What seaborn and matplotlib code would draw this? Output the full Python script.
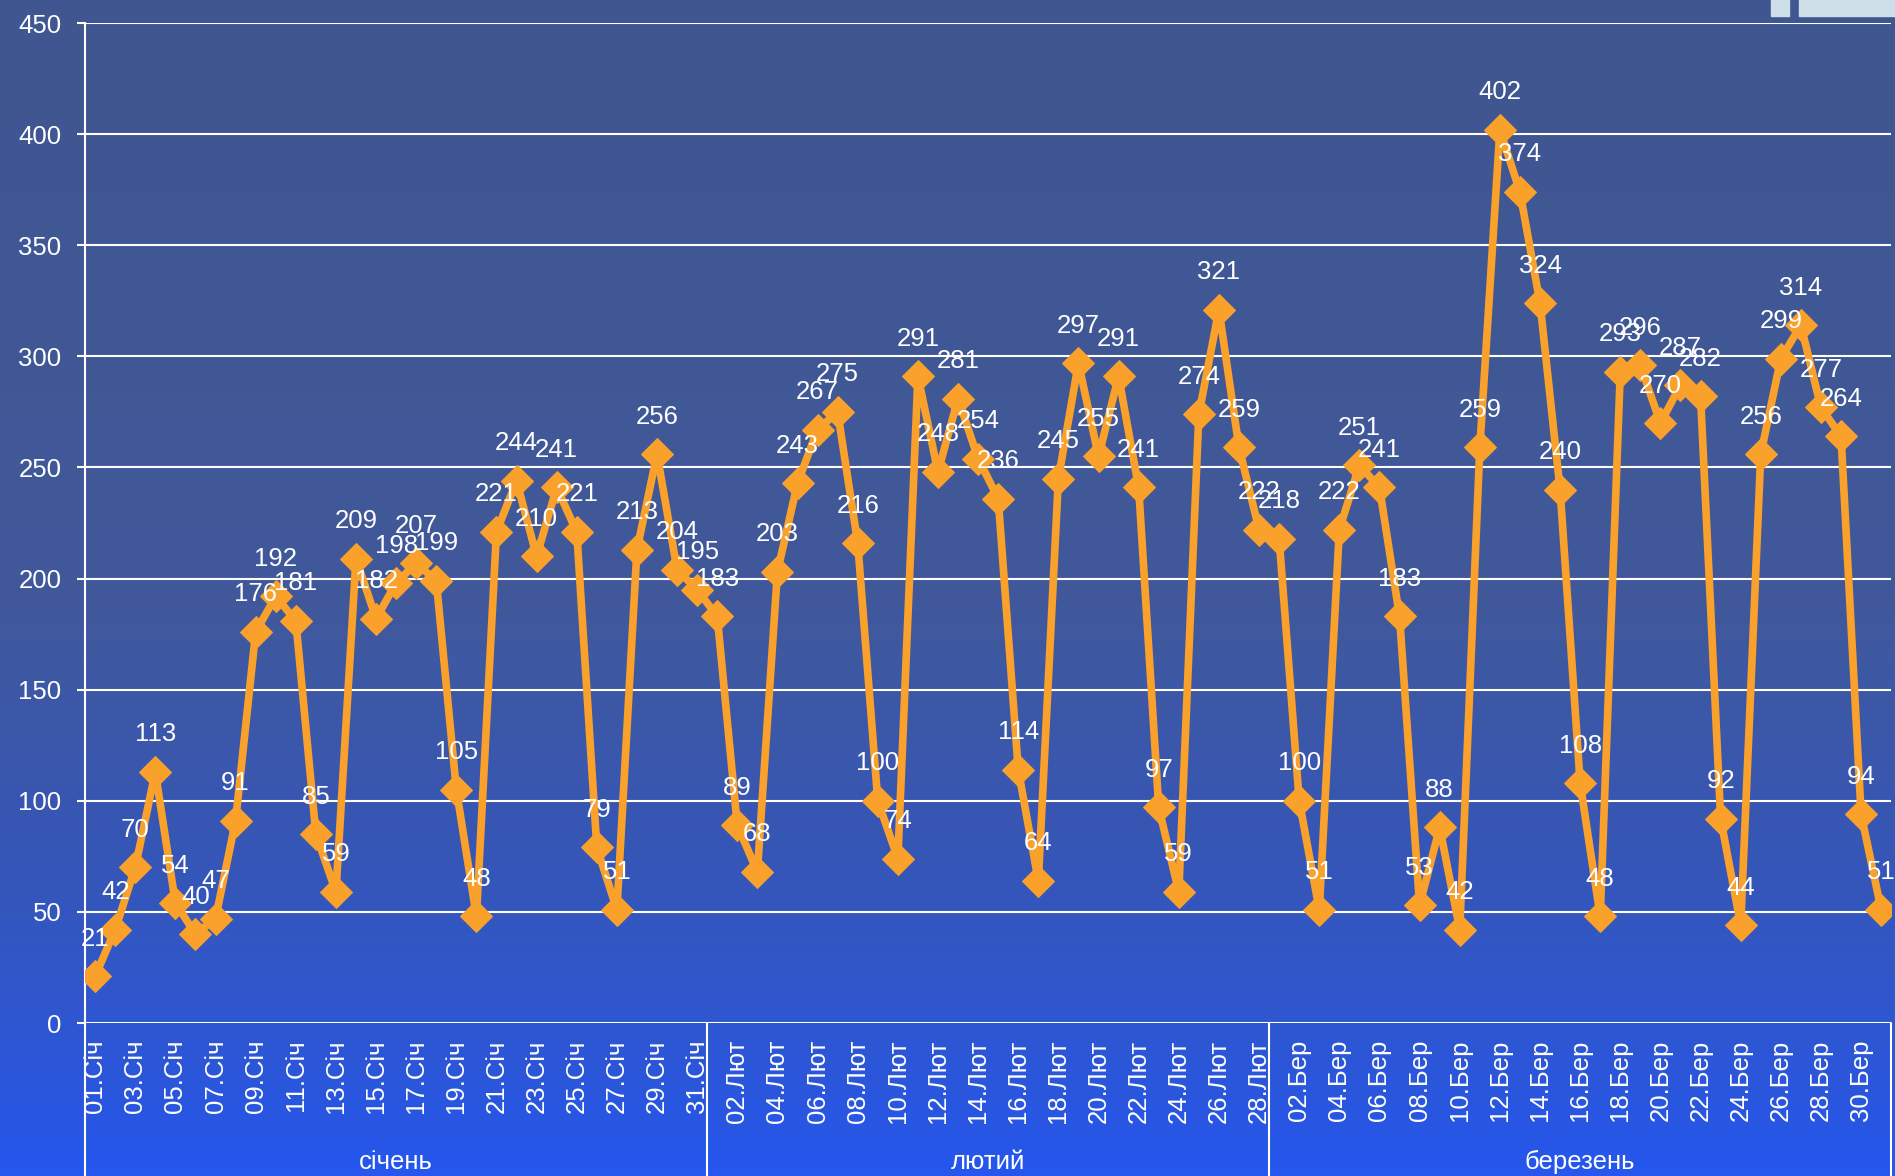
import numpy as np
import pandas as pd
import matplotlib
matplotlib.use("Agg")
from matplotlib import pyplot as plt
from matplotlib.colors import LinearSegmentedColormap
from matplotlib.patches import Rectangle
import matplotlib.transforms as mtransforms
import seaborn as sns

# daily values
jan_values = [21, 42, 70, 113, 54, 40, 47, 91, 176, 192, 181, 85, 59, 209, 182, 198,
              207, 199, 105, 48, 221, 244, 210, 241, 221, 79, 51, 213, 256, 204, 195]
feb_values = [183, 89, 68, 203, 243, 267, 275, 216, 100, 74, 291, 248, 281, 254, 236,
              114, 64, 245, 297, 255, 291, 241, 97, 59, 274, 321, 259, 222]
mar_values = [218, 100, 51, 222, 251, 241, 183, 53, 88, 42, 259, 402, 374, 324, 240,
              108, 48, 293, 296, 270, 287, 282, 92, 44, 256, 299, 314, 277, 264, 94, 51]
month_names = ['січень', 'лютий', 'березень']
month_abbr = ['Січ', 'Лют', 'Бер']
y_ticks = [0, 50, 100, 150, 200, 250, 300, 350, 400, 450]

sns.set_style("white")
plt.rcParams['font.family'] = ['Liberation Sans', 'DejaVu Sans']

# build one table with a running position
rows = []
for m, vals in enumerate([jan_values, feb_values, mar_values]):
    for d, v in enumerate(vals):
        rows.append({'month': m, 'day': d + 1, 'value': v})
df = pd.DataFrame(rows)
df['pos'] = np.arange(len(df))
df['label'] = [f"{d:02d}.{month_abbr[m]}" for m, d in zip(df['month'], df['day'])]

fig = plt.figure(figsize=(18.95, 11.76), dpi=100)

# gradient background
bg = fig.add_axes([0, 0, 1, 1], zorder=-1)
cmap = LinearSegmentedColormap.from_list(
    'bg', [(0, '#2556EE'), (0.12, '#2E57D2'), (0.25, '#3556BA'),
           (0.5, '#41599A'), (1, '#3F5690')])
bg.imshow(np.linspace(0, 1, 256).reshape(-1, 1), aspect='auto', cmap=cmap,
          extent=[0, 1, 0, 1], origin='lower')
bg.axis('off')

# leftover legend boxes in the top right corner
fig.patches.append(Rectangle((1771 / 1895, 1 - 16 / 1176), 18 / 1895, 16 / 1176,
                             transform=fig.transFigure, color='#CFDFEA', zorder=5))
fig.patches.append(Rectangle((1799 / 1895, 1 - 16 / 1176), 96 / 1895, 16 / 1176,
                             transform=fig.transFigure, color='#CFDFEA', zorder=5))

ax = fig.add_axes([0.0449, 0.1301, 0.9531, 0.8503])
ax.set_facecolor('none')

sns.lineplot(data=df, x='pos', y='value', ax=ax, color='#F9A12A', lw=5.5,
             marker='D', markersize=16, markeredgecolor='#F9A12A', zorder=3)

for p, v in zip(df['pos'], df['value']):
    ax.annotate(str(v), (p, v), xytext=(0, 27), textcoords='offset points',
                ha='center', va='center', color='white', fontsize=18.5, zorder=4)

n = len(df)
ax.set_xlim(-0.5, n - 0.5)
ax.set_ylim(0, 450)
ax.set_yticks(y_ticks)
ticks = df['pos'][::2]
ax.set_xticks(ticks)
ax.set_xticklabels(df['label'][::2], rotation=90)
ax.tick_params(axis='x', length=0, pad=12, colors='white', labelsize=18.5)
ax.tick_params(axis='y', length=6, width=1.5, pad=11, colors='white',
               labelsize=18.5, direction='out', left=True)
ax.yaxis.grid(True, color='white', lw=1.5)
ax.xaxis.grid(False)
ax.set_xlabel('')
ax.set_ylabel('')
for s in ['top', 'right', 'bottom']:
    ax.spines[s].set_visible(False)
ax.spines['left'].set_color('white')
ax.spines['left'].set_linewidth(1.5)

# month blocks under the axis
trans = mtransforms.blended_transform_factory(ax.transData, ax.transAxes)
bottom = -0.16
bounds = [-0.5]
for vals in [jan_values, feb_values, mar_values]:
    bounds.append(bounds[-1] + len(vals))
for b in bounds:
    ax.plot([b, b], [0, bottom], transform=trans, color='white', lw=1.5,
            clip_on=False)
for i, name in enumerate(month_names):
    ax.text((bounds[i] + bounds[i + 1]) / 2, -0.139, name, transform=trans,
            ha='center', va='center', color='white', fontsize=18.5)

fig.savefig('out.png', dpi=100)
